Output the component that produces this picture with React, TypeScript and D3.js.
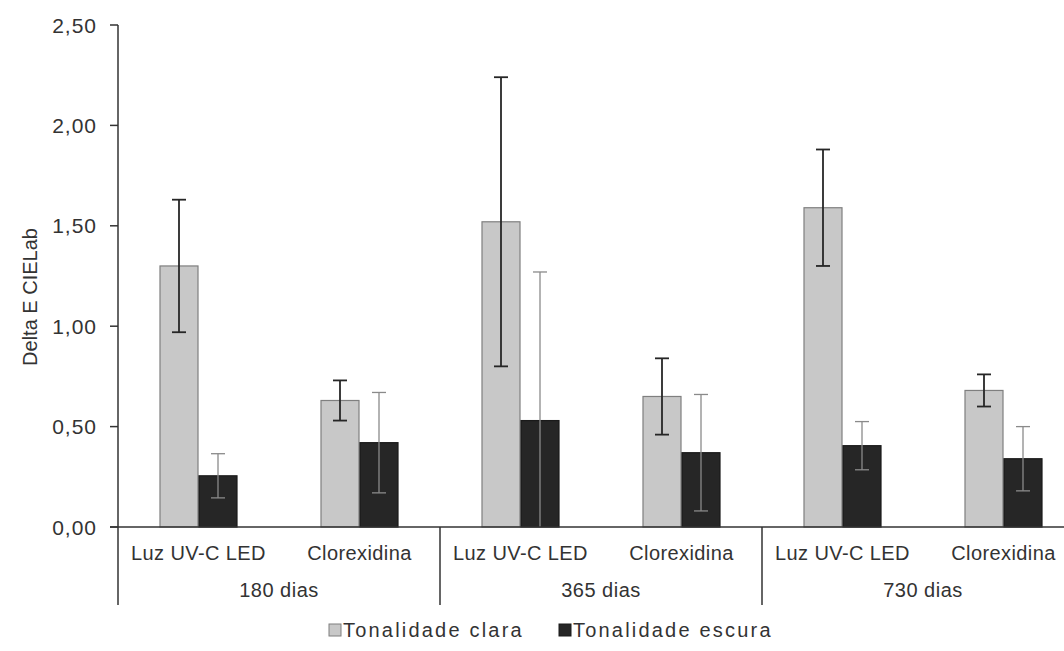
import React from "react";
import * as d3 from "d3";

const periods = ["180 dias", "365 dias", "730 dias"];
const treatments = ["Luz UV-C LED", "Clorexidina"];
const seriesNames = ["Tonalidade clara", "Tonalidade escura"];
const claraValues = [1.30, 0.63, 1.52, 0.65, 1.59, 0.68];
const claraErrors = [0.33, 0.10, 0.72, 0.19, 0.29, 0.08];
const escuraValues = [0.255, 0.42, 0.53, 0.37, 0.405, 0.34];
const escuraErrors = [0.11, 0.25, 0.74, 0.29, 0.12, 0.16];
const yTicks = [0, 0.5, 1.0, 1.5, 2.0, 2.5];

const W = 1064;
const H = 651;
const FONT = "'Liberation Sans', Arial, sans-serif";
const LIGHT = "#c8c8c8";
const DARK = "#262626";

export default function App() {
  const left = 118;
  const top = 25;
  const bottom = 527;
  const catCount = periods.length * treatments.length;
  const catKeys = d3.range(catCount).map(String);
  const x = d3.scaleBand<string>().domain(catKeys).range([left, left + 161 * catCount]).padding(0);
  const y = d3.scaleLinear().domain([0, 2.5]).range([bottom, top]);
  const barW = 39;
  const capW = 14;
  const fmt = (v: number) => v.toFixed(2).replace(".", ",");

  const groupX = d3.scaleBand<string>().domain(periods).range([left, left + 161 * catCount]).padding(0);

  const series = [
    { values: claraValues, errors: claraErrors, fill: LIGHT, stroke: "#7f7f7f", errColor: "#262626", errW: 1.8, offset: -barW },
    { values: escuraValues, errors: escuraErrors, fill: DARK, stroke: "#1a1a1a", errColor: "#8a8a8a", errW: 1.3, offset: 0 },
  ];

  return (
    <svg width={W} height={H} style={{ position: "absolute", left: 0, top: 0, background: "#fff" }}>
      {/* bars */}
      {series.map((s, si) =>
        s.values.map((v, i) => {
          const cx = (x(String(i)) as number) + x.bandwidth() / 2;
          const bx = cx + s.offset;
          return (
            <rect key={`b${si}-${i}`} x={bx + 0.5} y={y(v)} width={barW - 1} height={y(0) - y(v)}
              fill={s.fill} stroke={s.stroke} strokeWidth={1.2} />
          );
        })
      )}
      {/* error bars */}
      {series.map((s, si) =>
        s.values.map((v, i) => {
          const cx = (x(String(i)) as number) + x.bandwidth() / 2 + s.offset + barW / 2;
          const hi = y(v + s.errors[i]);
          const loVal = v - s.errors[i];
          const lo = y(Math.max(0, loVal));
          return (
            <g key={`e${si}-${i}`} stroke={s.errColor} strokeWidth={s.errW}>
              <line x1={cx} x2={cx} y1={hi} y2={lo} />
              <line x1={cx - capW / 2} x2={cx + capW / 2} y1={hi} y2={hi} />
              {loVal >= 0 && <line x1={cx - capW / 2} x2={cx + capW / 2} y1={lo} y2={lo} />}
            </g>
          );
        })
      )}
      {/* y axis */}
      <line x1={left} x2={left} y1={top} y2={605} stroke="#333" strokeWidth={1.5} />
      {yTicks.map((t) => (
        <g key={`t${t}`}>
          <line x1={left - 8} x2={left} y1={y(t)} y2={y(t)} stroke="#333" strokeWidth={1.5} />
          <text x={97} y={y(t) + 7.5} textAnchor="end" fontFamily={FONT} fontSize={21} letterSpacing={1} fill="#333">
            {fmt(t)}
          </text>
        </g>
      ))}
      {/* x axis */}
      <line x1={left - 8} x2={W} y1={bottom} y2={bottom} stroke="#333" strokeWidth={1.5} />
      {periods.map((p, gi) => {
        const gx = groupX(p) as number;
        return (
          <g key={p}>
            {gi > 0 && <line x1={gx} x2={gx} y1={bottom} y2={605} stroke="#333" strokeWidth={1.5} />}
            <text x={gx + groupX.bandwidth() / 2} y={597} textAnchor="middle" fontFamily={FONT} fontSize={20} letterSpacing={0.5} fill="#333">
              {p}
            </text>
          </g>
        );
      })}
      {catKeys.map((k, i) => (
        <text key={`c${k}`} x={(x(k) as number) + x.bandwidth() / 2} y={560} textAnchor="middle" fontFamily={FONT} fontSize={20} letterSpacing={0.4} fill="#333">
          {treatments[i % treatments.length]}
        </text>
      ))}
      {/* y label */}
      <text transform="translate(37,297) rotate(-90)" textAnchor="middle" fontFamily={FONT} fontSize={20} fill="#333">
        Delta E CIELab
      </text>
      {/* legend */}
      {seriesNames.map((n, i) => {
        const lx = i === 0 ? 329 : 559;
        return (
          <g key={n}>
            <rect x={lx} y={624} width={12} height={12} fill={i === 0 ? LIGHT : DARK} stroke={i === 0 ? "#7f7f7f" : "#1a1a1a"} strokeWidth={1} />
            <text x={lx + 14} y={637} fontFamily={FONT} fontSize={20} letterSpacing={2.2} fill="#333">
              {n}
            </text>
          </g>
        );
      })}
    </svg>
  );
}
